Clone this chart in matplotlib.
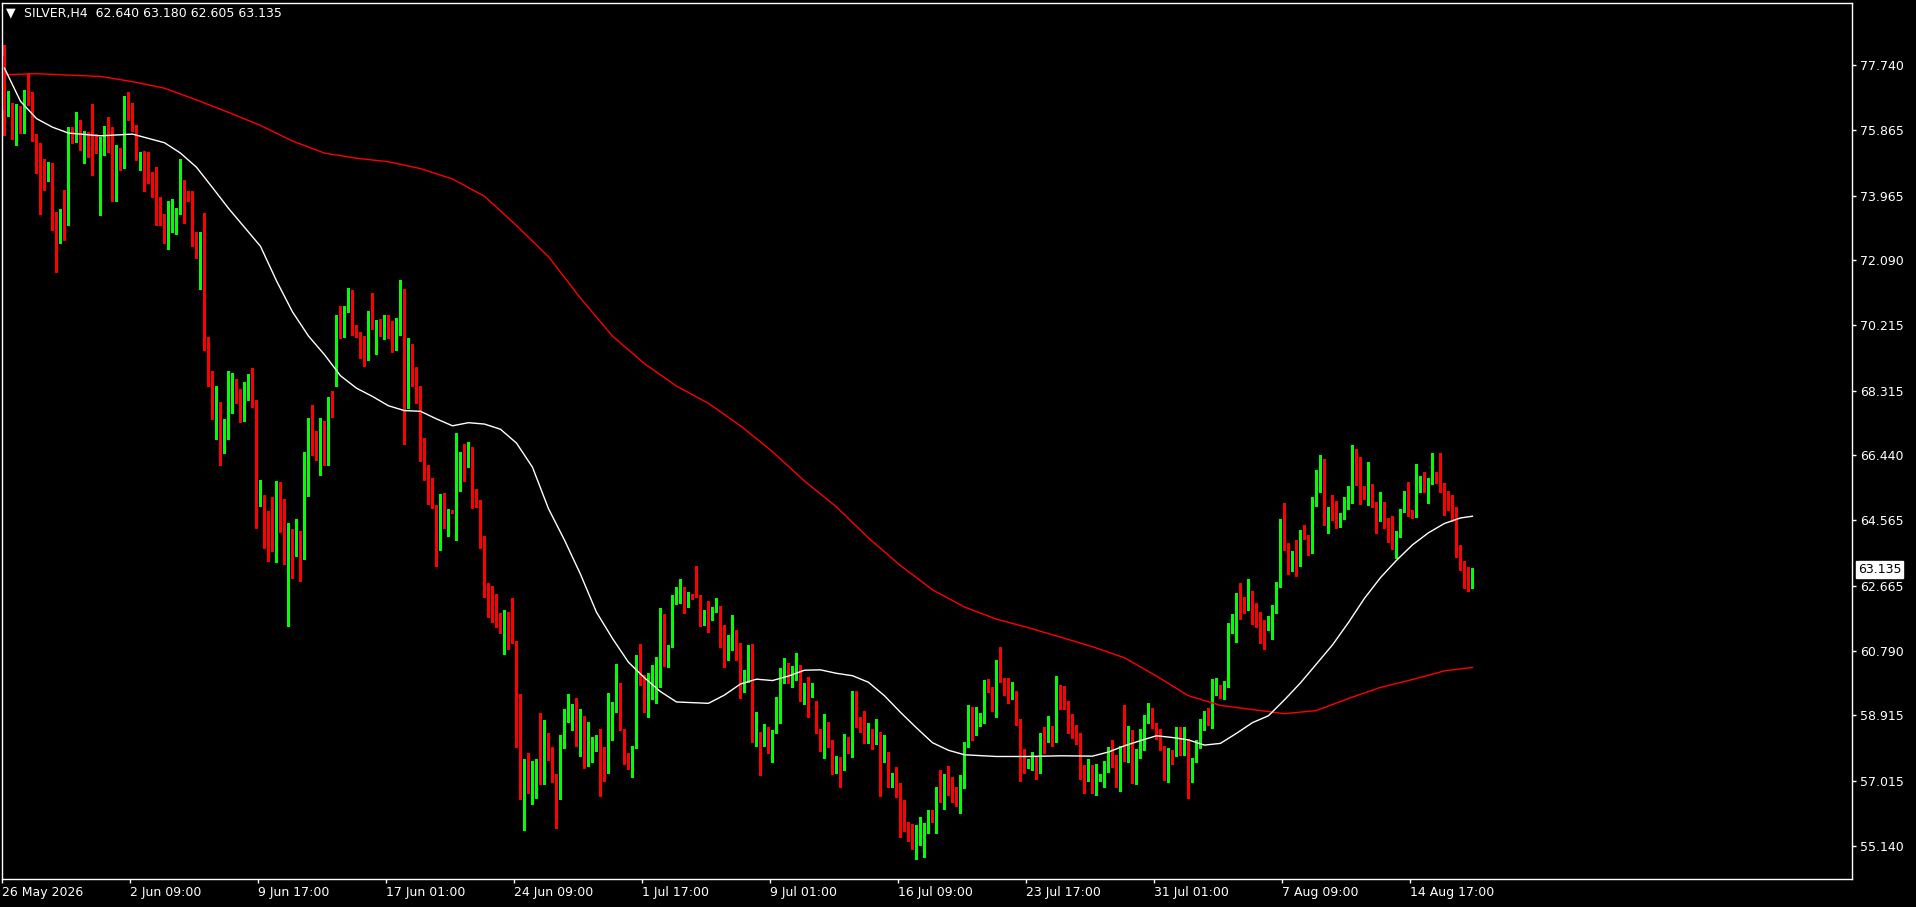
import numpy as np
import matplotlib
matplotlib.use("Agg")
import matplotlib.pyplot as plt
from matplotlib.transforms import blended_transform_factory

# SILVER, H4 - one value per bar
opens = [
    78.01, 76.40, 76.44, 75.93, 75.97, 75.90, 76.88, 76.74, 75.63, 75.41,
    74.52, 74.46, 74.61, 73.09, 73.03, 73.51, 73.30, 75.86, 75.58, 75.97,
    75.55, 75.57, 75.43, 75.35, 75.36, 75.50, 75.79, 75.64, 73.88, 75.32,
    74.80, 76.39, 76.24, 75.86, 75.07, 75.08, 74.70, 74.37, 73.95, 73.75,
    73.22, 72.69, 73.06, 73.12, 73.43, 74.33, 73.87, 73.87, 72.60, 72.20,
    72.74, 69.59, 68.89, 67.59, 67.83, 66.56, 66.97, 67.91, 68.41, 68.18,
    67.96, 68.31, 68.38, 67.99, 65.07, 65.30, 64.67, 64.55, 63.94, 65.60,
    64.87, 63.37, 64.02, 63.89, 64.06, 63.97, 65.87, 67.33, 66.86, 66.49,
    67.21, 66.23, 68.03, 68.51, 70.20, 69.97, 70.70, 71.03, 70.10, 69.96,
    69.33, 69.25, 70.42, 70.14, 70.20, 69.96, 70.44, 70.31, 69.89, 70.11,
    71.26, 67.83, 69.35, 68.81, 68.42, 66.89, 66.10, 65.67, 64.97, 63.84,
    65.06, 64.65, 64.82, 64.65, 65.86, 66.37, 66.30, 66.53, 65.23, 65.06,
    64.03, 62.55, 62.51, 62.37, 61.79, 61.52, 61.68, 61.57, 61.04, 59.49,
    56.53, 57.38, 56.80, 57.07, 57.40, 56.95, 58.28, 57.83, 57.13, 56.57,
    58.17, 58.89, 58.95, 59.06, 58.27, 58.53, 57.64, 58.10, 58.15, 58.29,
    57.40, 57.23, 58.75, 59.19, 59.59, 58.51, 57.66, 57.47, 57.98, 60.24,
    59.84, 59.07, 59.72, 59.77, 59.79, 61.85, 60.40, 60.90, 62.16, 62.28,
    62.51, 62.16, 62.37, 62.51, 62.40, 61.56, 61.93, 61.79, 61.94, 62.01,
    61.50, 60.53, 60.88, 61.29, 60.98, 59.90, 59.97, 60.83, 58.25, 58.39,
    58.08, 58.25, 58.18, 58.41, 59.11, 60.20, 60.40, 59.92, 60.10, 60.20,
    59.45, 59.69, 59.50, 59.31, 58.49, 57.98, 58.44, 58.17, 57.28, 57.62,
    57.38, 58.23, 58.05, 59.04, 58.78, 58.68, 58.37, 58.49, 58.20, 58.31,
    57.62, 57.76, 57.04, 57.13, 56.92, 55.71, 55.69, 55.49, 55.16, 55.43,
    55.52, 55.73, 55.92, 55.88, 56.63, 56.46, 56.96, 56.75, 56.72, 56.34,
    56.87, 58.02, 59.07, 58.41, 58.70, 58.76, 59.91, 59.65, 59.34, 60.47,
    59.94, 59.69, 59.47, 59.60, 58.73, 57.60, 57.45, 57.60, 57.62, 57.28,
    58.39, 58.32, 58.50, 58.17, 59.79, 59.39, 59.26, 58.52, 58.49, 58.37,
    57.21, 57.04, 57.15, 56.78, 57.04, 57.07, 57.45, 57.73, 57.71, 56.92,
    57.88, 57.70, 58.37, 57.06, 57.70, 58.49, 58.71, 58.97, 58.66, 58.34,
    57.91, 57.16, 57.86, 57.86, 58.20, 58.10, 58.18, 57.06, 57.62, 58.15,
    58.60, 58.97, 58.70, 59.65, 59.77, 59.47, 59.86, 61.37, 61.40, 62.35,
    62.18, 61.98, 62.23, 62.11, 61.85, 61.60, 61.40, 61.48, 62.04, 62.69,
    64.40, 63.88, 63.30, 63.67, 63.41, 64.14, 64.09, 63.63, 65.07, 65.68,
    66.31, 64.70, 64.89, 64.83, 64.49, 64.64, 65.05, 65.23, 66.39, 66.13,
    65.32, 65.27, 65.42, 64.98, 64.57, 64.74, 64.62, 64.43, 63.77, 64.21,
    64.86, 65.34, 64.77, 64.81, 65.66, 65.75, 65.44, 65.66, 65.90, 65.76,
    65.61, 65.18, 65.05, 64.86, 63.80, 63.30, 63.15, 62.640,
]
highs = [
    78.34, 76.99, 76.64, 76.63, 76.55, 77.02, 77.51, 76.97, 75.75, 75.50,
    75.02, 74.94, 74.91, 73.48, 73.58, 74.13, 75.97, 75.97, 76.39, 76.15,
    75.84, 75.81, 76.63, 75.75, 75.68, 75.98, 76.24, 75.96, 75.42, 75.36,
    76.86, 76.97, 76.66, 76.02, 75.22, 75.27, 75.22, 74.64, 74.80, 73.94,
    73.44, 73.80, 73.87, 73.61, 75.03, 74.41, 74.10, 74.10, 72.92, 72.90,
    73.45, 69.88, 68.90, 68.46, 67.98, 67.51, 68.89, 68.83, 68.66, 68.36,
    68.56, 68.80, 68.98, 68.06, 65.74, 65.30, 64.82, 65.24, 65.71, 65.67,
    65.17, 64.47, 64.32, 64.60, 64.25, 66.54, 67.53, 67.91, 67.14, 67.53,
    67.44, 68.14, 68.31, 70.50, 70.77, 70.78, 71.30, 71.23, 70.23, 70.03,
    69.90, 70.63, 71.15, 70.36, 70.39, 70.50, 70.50, 70.33, 70.42, 71.53,
    71.26, 69.83, 69.66, 69.00, 68.44, 66.95, 66.17, 65.78, 65.00, 65.32,
    65.36, 64.90, 64.85, 67.09, 66.53, 66.76, 66.83, 66.69, 65.47, 65.14,
    64.12, 62.76, 62.66, 62.44, 61.88, 61.96, 61.90, 62.31, 61.07, 59.52,
    57.66, 57.83, 57.60, 57.66, 58.97, 58.78, 58.41, 58.00, 57.21, 58.34,
    59.11, 59.53, 59.23, 59.40, 59.11, 58.89, 58.71, 58.29, 58.34, 58.51,
    58.00, 59.55, 59.31, 60.40, 59.84, 58.53, 57.81, 58.02, 60.66, 60.98,
    60.08, 60.15, 60.37, 60.59, 62.01, 61.85, 60.95, 62.40, 62.64, 62.86,
    62.64, 62.49, 62.42, 63.24, 62.40, 61.96, 62.22, 62.06, 62.30, 62.08,
    61.53, 61.24, 61.82, 61.38, 61.00, 60.24, 60.95, 60.97, 59.00, 58.44,
    58.66, 58.56, 58.49, 59.43, 60.27, 60.56, 60.42, 60.34, 60.71, 60.37,
    59.84, 60.01, 59.86, 59.34, 58.51, 58.95, 58.72, 58.20, 57.73, 57.70,
    58.37, 58.28, 59.62, 59.62, 58.85, 59.04, 58.68, 58.53, 58.80, 58.42,
    58.34, 57.86, 57.25, 57.43, 56.94, 56.46, 55.83, 55.76, 55.73, 55.96,
    55.80, 56.17, 56.17, 56.85, 57.33, 57.21, 57.44, 57.12, 56.85, 57.18,
    58.15, 59.21, 59.16, 59.14, 58.97, 59.95, 59.96, 59.74, 60.52, 60.88,
    59.98, 60.00, 59.87, 59.63, 58.80, 57.93, 57.64, 57.84, 57.71, 58.41,
    58.58, 58.90, 58.60, 60.05, 59.79, 59.76, 59.34, 58.95, 58.63, 58.39,
    57.47, 57.65, 57.47, 57.50, 57.20, 57.60, 58.00, 58.20, 57.76, 58.02,
    59.21, 58.60, 58.49, 57.93, 58.51, 58.92, 59.26, 59.12, 58.68, 58.53,
    58.02, 57.96, 57.91, 58.58, 58.57, 58.58, 58.22, 57.67, 58.20, 58.80,
    59.05, 59.12, 59.96, 59.98, 59.79, 59.92, 61.58, 61.85, 62.47, 62.75,
    62.35, 62.86, 62.52, 62.16, 61.92, 61.67, 61.79, 62.11, 62.77, 64.59,
    65.07, 63.90, 63.68, 63.99, 64.28, 64.43, 64.14, 65.23, 66.02, 66.45,
    66.35, 64.94, 65.30, 65.12, 64.77, 65.25, 65.56, 66.74, 66.62, 66.39,
    65.57, 66.26, 65.61, 65.10, 65.39, 65.10, 64.64, 64.69, 64.25, 64.88,
    65.42, 65.68, 64.86, 66.19, 65.85, 65.97, 65.78, 66.52, 65.97, 66.52,
    65.63, 65.41, 65.30, 64.94, 63.85, 63.37, 63.22, 63.180,
]
lows = [
    75.72, 76.27, 75.61, 75.44, 75.79, 75.79, 76.60, 75.55, 74.61, 73.44,
    74.14, 74.39, 72.98, 71.76, 72.60, 72.69, 73.11, 75.50, 75.53, 75.30,
    74.92, 75.10, 74.57, 75.20, 73.42, 75.15, 75.24, 73.82, 73.80, 74.72,
    74.77, 76.16, 75.83, 74.99, 74.72, 74.11, 74.33, 73.93, 73.13, 73.11,
    72.59, 72.43, 72.92, 72.87, 73.43, 73.17, 73.80, 72.50, 72.15, 71.25,
    69.50, 68.44, 67.50, 66.91, 66.15, 66.51, 66.91, 67.68, 67.96, 67.41,
    67.44, 68.04, 67.84, 64.34, 64.97, 63.77, 63.39, 63.67, 63.35, 64.22,
    63.29, 61.50, 62.89, 63.52, 62.79, 63.45, 65.27, 66.44, 66.31, 65.87,
    66.16, 66.16, 67.56, 68.46, 69.85, 69.87, 70.60, 69.94, 69.86, 69.26,
    69.04, 69.22, 70.11, 69.39, 69.89, 69.80, 69.83, 69.44, 69.50, 69.94,
    66.78, 67.81, 68.44, 67.95, 66.28, 65.73, 65.03, 64.92, 63.23, 63.70,
    64.34, 64.12, 64.76, 63.99, 65.40, 65.70, 66.12, 64.92, 64.95, 63.77,
    62.35, 61.77, 61.63, 61.46, 61.29, 60.68, 60.83, 61.00, 57.99, 56.50,
    55.59, 56.67, 56.33, 56.53, 56.92, 56.92, 57.63, 56.99, 55.66, 56.50,
    57.96, 58.73, 58.50, 58.02, 57.73, 57.40, 57.44, 57.57, 57.89, 56.57,
    57.02, 57.23, 58.20, 59.02, 58.49, 57.50, 57.35, 57.13, 57.96, 59.79,
    59.02, 58.87, 59.38, 59.28, 59.74, 60.34, 60.32, 60.88, 62.14, 62.16,
    61.89, 62.06, 62.28, 62.35, 61.50, 61.53, 61.33, 61.67, 61.91, 60.90,
    60.30, 60.51, 60.80, 60.51, 59.40, 59.60, 59.89, 58.15, 58.02, 57.18,
    58.02, 57.81, 57.57, 58.39, 58.70, 59.84, 59.84, 59.72, 59.94, 59.34,
    59.24, 58.87, 59.45, 58.41, 57.88, 57.69, 58.00, 57.21, 57.23, 56.85,
    57.33, 57.81, 57.70, 58.56, 58.44, 58.10, 58.10, 57.94, 58.08, 56.58,
    57.57, 56.85, 56.85, 56.54, 55.38, 55.57, 55.28, 55.03, 54.74, 55.16,
    54.82, 55.49, 55.83, 55.49, 56.41, 56.19, 56.60, 56.41, 56.29, 56.09,
    56.80, 58.00, 58.20, 58.34, 58.60, 58.68, 59.60, 59.05, 58.87, 59.89,
    59.50, 59.28, 59.39, 58.63, 57.02, 57.25, 57.38, 57.33, 57.06, 57.25,
    57.81, 58.15, 58.03, 58.15, 59.09, 59.09, 58.39, 58.27, 58.08, 57.06,
    56.67, 57.02, 56.67, 56.60, 57.00, 56.85, 57.28, 57.41, 56.85, 56.73,
    57.60, 57.57, 56.96, 56.91, 57.67, 57.91, 58.68, 58.54, 58.22, 57.91,
    57.04, 56.99, 57.50, 57.72, 57.76, 57.76, 56.51, 56.99, 57.57, 57.98,
    58.50, 58.63, 58.54, 59.50, 59.40, 59.38, 59.74, 61.31, 61.05, 61.69,
    61.89, 61.96, 61.56, 61.48, 61.02, 60.82, 61.37, 61.12, 61.87, 62.62,
    63.70, 63.01, 63.10, 62.95, 63.24, 64.01, 63.56, 63.61, 64.98, 65.39,
    64.43, 64.20, 64.57, 64.33, 64.38, 64.59, 64.88, 65.07, 65.58, 65.03,
    65.18, 65.00, 64.94, 64.20, 64.55, 64.35, 63.92, 63.72, 63.48, 64.09,
    64.81, 64.69, 64.62, 64.67, 65.37, 65.37, 65.05, 65.61, 65.63, 65.39,
    64.72, 64.86, 64.55, 63.51, 63.12, 62.59, 62.52, 62.605,
]
closes = [
    76.44, 76.44, 75.94, 75.97, 75.90, 76.90, 76.70, 75.61, 75.42, 74.49,
    74.46, 74.60, 73.06, 73.04, 73.52, 73.30, 75.86, 75.58, 75.97, 75.55,
    75.57, 75.41, 75.36, 75.24, 75.52, 75.79, 75.60, 73.88, 75.32, 74.81,
    76.39, 76.22, 75.85, 75.05, 75.10, 74.70, 74.36, 73.95, 73.71, 73.22,
    72.69, 73.09, 73.13, 73.47, 74.31, 73.89, 73.85, 72.58, 72.20, 72.74,
    69.56, 68.86, 67.76, 67.79, 66.61, 66.97, 67.93, 68.41, 68.16, 67.99,
    68.31, 68.38, 67.96, 65.07, 65.34, 64.64, 64.52, 63.94, 65.57, 64.84,
    63.37, 64.04, 63.89, 64.06, 63.97, 65.89, 67.33, 66.83, 66.49, 67.21,
    66.23, 68.03, 67.98, 70.20, 69.97, 70.72, 71.03, 70.07, 69.94, 69.31,
    69.28, 70.42, 70.13, 70.22, 69.96, 70.42, 70.27, 69.89, 70.13, 71.29,
    67.86, 69.33, 68.75, 68.39, 66.87, 66.08, 65.64, 64.95, 63.88, 65.06,
    64.65, 64.84, 64.79, 65.87, 66.37, 66.34, 66.48, 65.21, 65.03, 64.03,
    62.48, 62.48, 62.35, 61.77, 61.52, 61.68, 61.57, 61.02, 59.46, 56.53,
    57.38, 56.80, 57.08, 57.40, 56.95, 58.28, 57.80, 57.10, 56.58, 58.20,
    58.89, 58.97, 59.11, 58.27, 58.53, 57.64, 58.10, 58.17, 58.29, 57.33,
    57.23, 58.78, 59.21, 59.59, 58.49, 57.62, 57.47, 57.98, 60.24, 59.84,
    59.04, 59.74, 59.77, 59.82, 61.85, 60.40, 60.92, 62.16, 62.30, 62.54,
    62.16, 62.37, 62.32, 62.37, 61.56, 61.93, 61.79, 61.96, 62.01, 61.48,
    60.53, 60.88, 61.29, 60.98, 59.92, 60.01, 60.80, 58.25, 58.39, 58.05,
    58.22, 58.15, 58.39, 59.11, 60.23, 60.40, 59.92, 60.10, 60.20, 59.45,
    59.69, 59.50, 59.84, 58.44, 57.98, 58.44, 58.15, 57.28, 57.62, 57.38,
    58.20, 58.05, 59.07, 58.75, 58.66, 58.37, 58.49, 58.23, 58.31, 57.62,
    57.76, 57.04, 57.13, 56.89, 55.67, 55.64, 55.45, 55.16, 55.45, 55.54,
    55.76, 55.90, 55.88, 56.63, 56.46, 56.96, 56.73, 56.70, 56.34, 56.89,
    58.05, 59.04, 58.41, 58.73, 58.76, 59.91, 59.63, 59.31, 60.50, 59.94,
    59.67, 59.47, 59.60, 58.70, 57.57, 57.45, 57.62, 57.64, 57.28, 58.39,
    58.32, 58.52, 58.15, 59.76, 59.38, 59.26, 58.50, 58.47, 58.36, 57.18,
    57.04, 57.15, 56.78, 57.07, 57.09, 57.47, 57.76, 57.69, 56.89, 57.88,
    57.65, 58.37, 57.06, 57.73, 58.49, 58.71, 58.97, 58.68, 58.31, 57.91,
    57.16, 57.86, 57.52, 58.20, 58.10, 58.18, 57.06, 57.62, 58.17, 58.65,
    58.95, 58.70, 59.65, 59.79, 59.47, 59.87, 61.40, 61.41, 62.35, 62.14,
    61.98, 62.23, 62.08, 61.82, 61.56, 61.40, 61.50, 62.04, 62.69, 64.40,
    63.85, 63.30, 63.53, 63.41, 64.14, 64.04, 63.63, 65.10, 65.70, 66.31,
    64.70, 64.86, 64.81, 64.49, 64.65, 65.05, 65.23, 66.38, 66.12, 65.30,
    65.27, 65.42, 64.96, 64.57, 64.74, 64.60, 64.14, 63.77, 64.21, 64.86,
    65.34, 64.77, 64.64, 65.66, 65.75, 65.44, 65.66, 65.87, 65.73, 65.58,
    65.15, 65.05, 64.81, 63.77, 63.27, 63.12, 62.64, 63.135,
]

# moving averages, read at bar positions
ma_fast_idx = [0, 4, 8, 12, 16, 24, 32, 40, 44, 48, 52, 56, 60, 64, 68, 72, 76, 80, 84, 88,
               92, 96, 100, 104, 108, 112, 116, 120, 124, 128, 132, 136, 140, 144, 148, 152,
               156, 160, 164, 168, 176, 180, 184, 188, 192, 196, 200, 204, 208, 212, 216, 220,
               224, 228, 232, 236, 240, 248, 256, 264, 272, 276, 280, 284, 288, 292, 296, 300,
               304, 308, 312, 316, 320, 324, 328, 332, 336, 340, 344, 348, 352, 356, 360, 364, 367]
ma_fast = [77.66, 76.70, 76.20, 75.95, 75.78, 75.70, 75.75, 75.50, 75.20, 74.79, 74.20, 73.60,
           73.05, 72.50, 71.50, 70.60, 69.90, 69.36, 68.75, 68.39, 68.15, 67.88, 67.74, 67.72,
           67.50, 67.30, 67.39, 67.35, 67.20, 66.80, 66.10, 64.90, 63.99, 63.00, 61.90, 61.14,
           60.45, 60.00, 59.60, 59.30, 59.26, 59.50, 59.82, 59.96, 59.92, 60.05, 60.22, 60.23,
           60.13, 60.06, 59.87, 59.48, 59.00, 58.55, 58.12, 57.90, 57.77, 57.72, 57.72, 57.74,
           57.73, 57.85, 58.03, 58.18, 58.32, 58.27, 58.20, 58.05, 58.10, 58.39, 58.70, 58.90,
           59.36, 59.85, 60.40, 60.95, 61.60, 62.30, 62.90, 63.40, 63.85, 64.20, 64.47, 64.63, 64.68]
ma_slow_idx = [0, 8, 16, 24, 32, 40, 48, 56, 64, 72, 80, 88, 96, 104, 112, 120, 128, 136, 144,
               152, 160, 168, 176, 184, 192, 200, 208, 216, 224, 232, 240, 248, 256, 264, 272,
               280, 288, 296, 304, 312, 320, 328, 336, 344, 352, 360, 367]
ma_slow = [77.47, 77.50, 77.46, 77.42, 77.27, 77.08, 76.74, 76.38, 76.00, 75.55, 75.20, 75.05,
           74.95, 74.75, 74.45, 73.95, 73.10, 72.20, 71.00, 69.90, 69.10, 68.45, 67.95, 67.30,
           66.55, 65.70, 64.95, 64.05, 63.25, 62.55, 62.05, 61.70, 61.45, 61.18, 60.90, 60.58,
           60.05, 59.48, 59.20, 59.08, 58.96, 59.05, 59.40, 59.72, 59.95, 60.20, 60.30]

date_idx = [0, 32, 64, 96, 128, 160, 192, 224, 256, 288, 320, 352]
date_labels = ["26 May 2026", "2 Jun 09:00", "9 Jun 17:00", "17 Jun 01:00", "24 Jun 09:00",
               "1 Jul 17:00", "9 Jul 01:00", "16 Jul 09:00", "23 Jul 17:00", "31 Jul 01:00",
               "7 Aug 09:00", "14 Aug 17:00"]
price_ticks = [77.740, 75.865, 73.965, 72.090, 70.215, 68.315, 66.440, 64.565, 62.665,
               60.790, 58.915, 57.015, 55.140]

BULL = "#00ff00"
BEAR = "#ff0000"

o = np.array(opens)
h = np.array(highs)
l = np.array(lows)
c = np.array(closes)
x = np.arange(len(c))
cols = np.where(c >= o, BULL, BEAR)

fig = plt.figure(figsize=(19.16, 9.07), dpi=100, facecolor="black")
ax = fig.add_axes([2 / 1916, 1 - 879 / 907, 1850 / 1916, 876 / 907])
ax.set_facecolor("black")

ax.vlines(x, l, h, colors=cols, linewidth=1, antialiased=False, zorder=2)
body_low = np.minimum(o, c)
body_h = np.maximum(np.abs(c - o), 0.03)
ax.bar(x, body_h, bottom=body_low, width=0.82, color=cols, linewidth=0,
       antialiased=False, zorder=3)

ax.plot(ma_slow_idx, ma_slow, color="#ff0000", linewidth=1, zorder=4)
ax.plot(ma_fast_idx, ma_fast, color="white", linewidth=1, zorder=4)

ax.set_xlim(-0.625, 461.9)
ax.set_ylim(54.171, 79.548)

for s in ax.spines.values():
    s.set_color("white")
    s.set_linewidth(1)

ax.yaxis.tick_right()
ax.set_yticks(price_ticks)
ax.set_yticklabels([f"{v:.3f}" for v in price_ticks])
ax.set_xticks(np.array(date_idx) - 0.6)
ax.set_xticklabels(date_labels)
for t in ax.get_xticklabels():
    t.set_horizontalalignment("left")
ax.tick_params(colors="white", labelcolor="white", labelsize=9, length=3, width=1,
               direction="out")
ax.tick_params(axis="y", pad=3)
ax.tick_params(axis="x", pad=2)

# last price marker on the price scale
tr = blended_transform_factory(ax.transAxes, ax.transData)
ax.text(1.0 + 6 / 1850, closes[-1], f"{closes[-1]:.3f}", transform=tr, ha="left", va="center",
        fontsize=9, color="black", zorder=6, clip_on=False,
        bbox=dict(boxstyle="square,pad=0.15", facecolor="white", edgecolor="white"))

# header
fig.text(6 / 1916, 1 - 13 / 907, "\u25bc", color="white", fontsize=9, va="center", ha="left")
fig.text(24 / 1916, 1 - 13 / 907,
         f"SILVER,H4  {opens[-1]:.3f} {highs[-1]:.3f} {lows[-1]:.3f} {closes[-1]:.3f}",
         color="white", fontsize=9, va="center", ha="left")

fig.savefig("out.png", dpi=100, facecolor="black")
